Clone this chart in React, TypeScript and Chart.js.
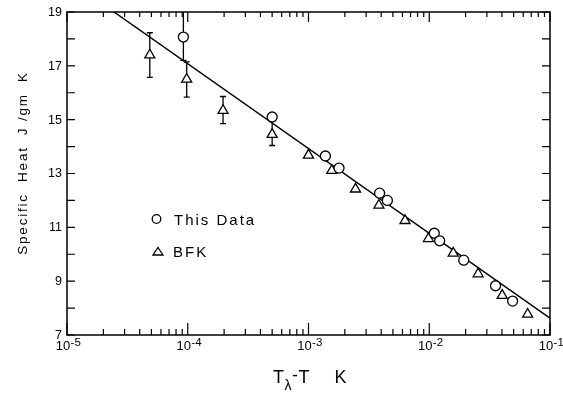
import React, { useEffect, useRef } from "react";
import { Chart, registerables } from "chart.js";
Chart.register(...registerables);

// "This Data" (circles)
const thisDataX = [9.2e-5, 5.0e-4, 1.38e-3, 1.79e-3, 3.88e-3, 4.5e-3, 1.1e-2, 1.22e-2, 1.93e-2, 3.54e-2, 4.9e-2];
const thisDataY = [18.07, 15.1, 13.65, 13.2, 12.27, 12.0, 10.78, 10.5, 9.78, 8.83, 8.26];
const thisErrX = [9.2e-5];
const thisErrLow = [17.2];
const thisErrHigh = [19.6];

// BFK (triangles)
const bfkX = [4.85e-5, 9.8e-5, 1.96e-4, 5.0e-4, 1.0e-3, 1.56e-3, 2.45e-3, 3.83e-3, 6.3e-3, 9.85e-3, 1.58e-2, 2.54e-2, 4.02e-2, 6.53e-2];
const bfkY = [17.4, 16.5, 15.34, 14.45, 13.68, 13.11, 12.42, 11.82, 11.25, 10.58, 10.04, 9.27, 8.47, 7.77];
const bfkErrX = [4.85e-5, 9.8e-5, 1.96e-4, 5.0e-4];
const bfkErrLow = [16.57, 15.84, 14.85, 14.04];
const bfkErrHigh = [18.23, 17.15, 15.86, 14.96];

// fitted line
const fitX = [2.45e-5, 1e-1];
const fitY = [19, 7.63];

// axes
const xMin = 1e-5;
const xMax = 1e-1;
const xDecadeExps = [-5, -4, -3, -2, -1];
const yMin = 7;
const yMax = 19;
const yTickValues = [7, 8, 9, 10, 11, 12, 13, 14, 15, 16, 17, 18, 19];
const yLabelValues = [7, 9, 11, 13, 15, 17, 19];

const legendLabels = ["This Data", "BFK"];
const yTitle = "Specific  Heat  J /gm  K";

const FONT = "'Liberation Sans', Arial, sans-serif";

const framePlugin = {
  id: "frame",
  beforeDatasetsDraw(chart: any) {
    const { ctx, chartArea: a, scales } = chart;
    const xs = scales.x;
    const ys = scales.y;
    ctx.save();
    ctx.beginPath();
    ctx.rect(a.left, a.top, a.right - a.left, a.bottom - a.top);
    ctx.clip();
    ctx.strokeStyle = "#000";
    ctx.lineWidth = 1.3;
    const drawErr = (ex: number[], lo: number[], hi: number[]) => {
      for (let i = 0; i < ex.length; i++) {
        const px = xs.getPixelForValue(ex[i]);
        const p1 = ys.getPixelForValue(lo[i]);
        const p2 = ys.getPixelForValue(hi[i]);
        ctx.beginPath();
        ctx.moveTo(px, p1);
        ctx.lineTo(px, p2);
        ctx.moveTo(px - 3, p1);
        ctx.lineTo(px + 3, p1);
        ctx.moveTo(px - 3, p2);
        ctx.lineTo(px + 3, p2);
        ctx.stroke();
      }
    };
    drawErr(bfkErrX, bfkErrLow, bfkErrHigh);
    drawErr(thisErrX, thisErrLow, thisErrHigh);
    ctx.restore();
  },
  afterDraw(chart: any) {
    const { ctx, chartArea: a, scales } = chart;
    const xs = scales.x;
    const ys = scales.y;
    ctx.save();
    ctx.strokeStyle = "#000";
    ctx.fillStyle = "#000";
    ctx.lineWidth = 1.5;
    ctx.strokeRect(a.left, a.top, a.right - a.left, a.bottom - a.top);

    ctx.lineWidth = 1.2;
    ctx.beginPath();
    // y ticks (left and right, inward)
    for (const v of yTickValues) {
      const py = ys.getPixelForValue(v);
      ctx.moveTo(a.left, py);
      ctx.lineTo(a.left + 8, py);
      ctx.moveTo(a.right, py);
      ctx.lineTo(a.right - 8, py);
    }
    // x ticks (bottom and top, inward)
    for (let e = 0; e < xDecadeExps.length; e++) {
      const dec = Math.pow(10, xDecadeExps[e]);
      const px = xs.getPixelForValue(dec);
      ctx.moveTo(px, a.bottom);
      ctx.lineTo(px, a.bottom - 12);
      ctx.moveTo(px, a.top);
      ctx.lineTo(px, a.top + 10);
      if (e < xDecadeExps.length - 1) {
        for (let k = 2; k <= 9; k++) {
          const mx = xs.getPixelForValue(k * dec);
          ctx.moveTo(mx, a.bottom);
          ctx.lineTo(mx, a.bottom - 6);
          ctx.moveTo(mx, a.top);
          ctx.lineTo(mx, a.top + 5);
        }
      }
    }
    ctx.stroke();

    // y labels
    ctx.font = `12.5px ${FONT}`;
    ctx.textAlign = "right";
    ctx.textBaseline = "middle";
    for (const v of yLabelValues) {
      ctx.fillText(String(v), a.left - 5, ys.getPixelForValue(v) + 0.5);
    }

    // x labels 10^n
    ctx.textBaseline = "alphabetic";
    ctx.textAlign = "left";
    for (const e of xDecadeExps) {
      const px = xs.getPixelForValue(Math.pow(10, e));
      ctx.font = `13px ${FONT}`;
      const w1 = ctx.measureText("10").width;
      ctx.font = `11.5px ${FONT}`;
      const sup = String(e);
      const w2 = ctx.measureText(sup).width;
      const x0 = px + 1 - (w1 + w2) / 2;
      ctx.font = `13px ${FONT}`;
      ctx.fillText("10", x0, a.bottom + 15);
      ctx.font = `11.5px ${FONT}`;
      ctx.fillText(sup, x0 + w1 + 0.5, a.bottom + 11);
    }

    // x title
    ctx.font = `18px ${FONT}`;
    ctx.fillText("T", 273, 383);
    ctx.font = `14px ${FONT}`;
    ctx.fillText("λ", 284.5, 390);
    ctx.font = `18px ${FONT}`;
    ctx.fillText("-", 292, 381);
    ctx.fillText("T", 298.5, 383);
    ctx.fillText("K", 334.5, 383);

    // y title
    ctx.save();
    ctx.translate(27, 163);
    ctx.rotate(-Math.PI / 2);
    ctx.font = `13.5px ${FONT}`;
    (ctx as any).letterSpacing = "1.8px";
    ctx.textAlign = "center";
    ctx.textBaseline = "alphabetic";
    ctx.fillText(yTitle, 0, 0);
    ctx.restore();

    // legend
    ctx.lineWidth = 1.3;
    ctx.beginPath();
    ctx.arc(156.5, 219, 4.3, 0, Math.PI * 2);
    ctx.stroke();
    ctx.beginPath();
    ctx.moveTo(158, 247.5);
    ctx.lineTo(163, 255);
    ctx.lineTo(153, 255);
    ctx.closePath();
    ctx.stroke();
    ctx.font = `15px ${FONT}`;
    (ctx as any).letterSpacing = "2px";
    ctx.textAlign = "left";
    ctx.fillText(legendLabels[0], 174, 225);
    ctx.fillText(legendLabels[1], 173, 256.5);
    (ctx as any).letterSpacing = "0px";
    ctx.restore();
  },
};

const App = () => {
  const ref = useRef<HTMLCanvasElement>(null);
  useEffect(() => {
    const canvas = ref.current;
    if (!canvas) return;
    const chart = new Chart(canvas, {
      type: "scatter",
      data: {
        datasets: [
          {
            label: legendLabels[0],
            data: thisDataX.map((x, i) => ({ x, y: thisDataY[i] })),
            pointStyle: "circle",
            pointRadius: 5,
            pointBorderWidth: 1.3,
            pointBackgroundColor: "#fff",
            pointBorderColor: "#000",
            showLine: false,
            order: 1,
          },
          {
            label: legendLabels[1],
            data: bfkX.map((x, i) => ({ x, y: bfkY[i] })),
            pointStyle: "triangle",
            pointRadius: 5.8,
            pointBorderWidth: 1.3,
            pointBackgroundColor: "#fff",
            pointBorderColor: "#000",
            showLine: false,
            order: 2,
          },
          {
            label: "fit",
            data: fitX.map((x, i) => ({ x, y: fitY[i] })),
            showLine: true,
            borderColor: "#000",
            borderWidth: 1.5,
            pointRadius: 0,
            order: 3,
          },
        ],
      },
      options: {
        animation: false,
        responsive: true,
        maintainAspectRatio: false,
        layout: { padding: { left: 67, right: 13, top: 12, bottom: 58 } },
        plugins: { legend: { display: false }, tooltip: { enabled: false } },
        scales: {
          x: { type: "logarithmic", min: xMin, max: xMax, display: false },
          y: { type: "linear", min: yMin, max: yMax, display: false },
        },
      },
      plugins: [framePlugin],
    });
    return () => chart.destroy();
  }, []);
  return (
    <div style={{ position: "fixed", left: 0, top: 0, width: 563, height: 393, background: "#fff" }}>
      <canvas ref={ref} />
    </div>
  );
};

export default App;
